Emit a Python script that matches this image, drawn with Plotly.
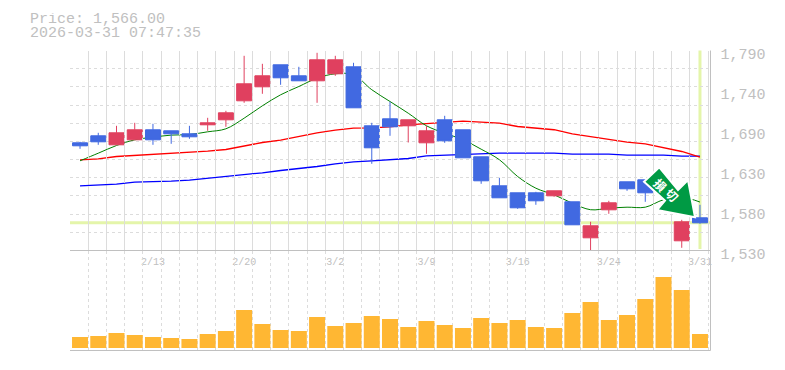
import plotly.graph_objects as go

opens = [1670.0,1679.1,1667.4,1673.9,1686.9,1685.6,1681.7,1693.4,1699.9,1724.6,1742.8,1771.4,1757.1,1750.6,1759.7,1768.8,1692.1,1701.2,1692.1,1670.0,1699.9,1686.9,1651.8,1614.1,1605.0,1605.0,1601.1,1593.3,1546.5,1582.9,1619.3,1621.9,1607.0,1542.6,1572.5]
closes = [1666.1,1671.3,1683.0,1686.9,1673.9,1681.7,1677.8,1696.0,1709.0,1746.7,1757.1,1754.5,1750.6,1777.9,1777.9,1715.5,1663.5,1690.8,1699.9,1685.6,1672.6,1650.5,1620.6,1598.5,1585.5,1594.6,1607.6,1563.4,1562.1,1592.0,1610.2,1605.0,1616.0,1567.3,1566.0]
highs = [1671.3,1683.0,1692.1,1696.0,1694.7,1685.6,1692.1,1702.5,1711.6,1783.1,1772.7,1771.4,1768.8,1787.0,1783.1,1774.0,1696.0,1723.3,1699.9,1692.1,1705.1,1686.9,1651.8,1624.5,1605.0,1606.3,1607.6,1593.3,1567.3,1594.6,1619.3,1621.9,1616.0,1569.9,1589.4]
lows = [1662.2,1667.4,1667.4,1673.9,1667.4,1668.7,1675.2,1685.6,1690.8,1722.0,1733.7,1745.4,1750.6,1722.0,1757.1,1715.5,1642.7,1679.1,1670.4,1655.7,1670.0,1650.5,1616.7,1598.5,1584.2,1589.4,1600.0,1563.4,1529.6,1577.7,1607.6,1593.3,1607.0,1533.5,1564.7]
ma_short = [1646.6,1656.5,1666.5,1673.9,1677.3,1680.0,1680.8,1684.3,1688.2,1702.0,1718.1,1732.4,1743.2,1754.0,1759.7,1758.4,1739.0,1723.7,1708.5,1692.1,1682.5,1674.0,1661.7,1648.0,1626.2,1611.0,1602.4,1591.5,1583.0,1585.0,1586.3,1586.3,1596.0,1599.3,1593.0]
ma_mid = [1647.9,1649.2,1652.2,1653.5,1654.8,1656.1,1657.0,1659.1,1661.3,1666.1,1670.4,1673.4,1678.6,1683.0,1686.4,1689.0,1689.5,1690.8,1693.4,1695.1,1697.3,1698.1,1696.8,1695.5,1691.2,1689.0,1687.0,1681.7,1677.8,1674.0,1670.8,1668.7,1664.0,1658.7,1651.3]
ma_long = [1614.1,1615.0,1616.2,1618.8,1619.3,1620.1,1621.4,1623.6,1625.8,1628.4,1631.0,1634.0,1636.2,1639.2,1642.7,1645.3,1646.6,1647.9,1649.6,1653.1,1653.9,1655.2,1655.2,1656.5,1656.5,1656.5,1656.5,1655.2,1655.2,1655.2,1653.9,1653.9,1653.9,1652.6,1652.6]
volumes = [11,12,15,13,11,10,9,14,17,38,24,18,17,31,22,25,32,29,21,27,23,20,30,25,28,21,20,35,46,28,33,49,71,58,14]
date_positions = [4,9,14,19,24,29,34]
date_labels = ["2/13","2/20","3/2","3/9","3/16","3/24","3/31"]
price_ticks = [1790,1738,1686,1634,1582,1530]
price_labels = ["1,790","1,740","1,690","1,630","1,580","1,530"]
last_price = 1566
title_lines = ["Price: 1,566.00","2026-03-31 07:47:35"]

W,H = 785,370
L,R,T,B = 70,710,50.5,350.5
XR = [-0.55,34.55]
YR = [1530,1790]
GREY="#c0c0c0"; GRID="#dcdcdc"; BLUE="#4169e1"; RED="#e0405f"
n=len(opens); xs=list(range(n))
def fy(p): return 1-p/H

fig=go.Figure()
fig.add_trace(go.Scatter(x=xs,y=ma_long,mode="lines",line=dict(color="#0000ff",width=1.3),hoverinfo="skip"))
fig.add_trace(go.Scatter(x=xs,y=ma_mid,mode="lines",line=dict(color="#ff0000",width=1.3),hoverinfo="skip"))
fig.add_trace(go.Scatter(x=xs,y=ma_short,mode="lines",line=dict(color="#008000",width=1,shape="spline"),hoverinfo="skip"))
fig.add_trace(go.Candlestick(x=xs,open=opens,high=highs,low=lows,close=closes,yaxis="y3",whiskerwidth=0,
    increasing=dict(line=dict(color=RED,width=1),fillcolor=RED),
    decreasing=dict(line=dict(color=BLUE,width=1),fillcolor=BLUE)))
fig.add_trace(go.Bar(x=xs,y=volumes,yaxis="y2",marker=dict(color="#ffb733",line_width=0),width=0.877))
fig.add_trace(go.Scatter(x=[0],y=[1530],yaxis="y4",mode="markers",marker=dict(opacity=0),hoverinfo="skip"))

minor_vals=[i-0.55 for i in range(n+1)]
fig.update_layout(
    width=W,height=H,autosize=False,margin=dict(l=0,r=0,t=0,b=0,autoexpand=False),paper_bgcolor="white",plot_bgcolor="rgba(0,0,0,0)",
    showlegend=False,boxgap=0.18,boxgroupgap=0,bargap=0.12,
    font=dict(family="Liberation Mono",color=GREY,size=15),
    xaxis=dict(domain=[L/W,R/W],range=XR,anchor="y",tickmode="array",tickvals=date_positions,ticktext=date_labels,
        tickfont=dict(size=10,color=GREY),ticks="outside",ticklen=1,tickcolor="rgba(0,0,0,0)",showgrid=False,zeroline=False,
        rangeslider=dict(visible=False),showline=False,
        minor=dict(tickmode="array",tickvals=minor_vals,showgrid=True,gridcolor=GRID,griddash="3px,3px",gridwidth=1,ticks="")),
    yaxis=dict(domain=[fy(250.5),fy(T)],range=YR,tickmode="linear",tick0=1530,dtick=260/11,showticklabels=False,ticks="",
        showgrid=True,gridcolor=GRID,griddash="3px,3px",zeroline=False),
    yaxis3=dict(overlaying="y",range=YR,visible=False),
    yaxis2=dict(domain=[fy(B),fy(250.5)],range=[-2.5,97.5],visible=False),
    yaxis4=dict(domain=[fy(253.5),fy(53.5)],range=YR,side="right",anchor="free",position=(R+0.5)/W,tickmode="array",
        tickvals=price_ticks,ticktext=price_labels,tickfont=dict(size=15,color=GREY),ticks="outside",ticklen=6,tickcolor="rgba(0,0,0,0)",
        showgrid=False,zeroline=False,showline=False),
)
def line(x0,y0,x1,y1,color=GREY,w=1,xref="paper",yref="paper",layer="above"):
    fig.add_shape(type="line",x0=x0,y0=y0,x1=x1,y1=y1,xref=xref,yref=yref,line=dict(color=color,width=w),layer=layer)
line(L/W,fy(250.5),(R+0.5)/W,fy(250.5))
line(L/W,fy(B),(R+0.5)/W,fy(B))
line((R+0.5)/W,fy(T),(R+0.5)/W,fy(B))
HL="#e4f5aa"
line(XR[0],last_price,XR[1],last_price,HL,3,xref="x",yref="y",layer="below")
line(34,fy(249),34,fy(T),HL,3,xref="x",yref="paper",layer="below")

pts=[(659.3,167.3),(678,190),(688,180),(695,217.3),(657,210),(665,200.7),(644,181.7)]
path="M "+" L ".join(f"{x/W:.5f},{1-y/H:.5f}" for x,y in pts)+" Z"
fig.add_shape(type="path",path=path,xref="paper",yref="paper",fillcolor="#009a44",line=dict(color="white",width=2))
for ch,(ax,ay) in zip("損切",[(660.7,184),(672,195)]):
    fig.add_annotation(text="<b>"+ch+"</b>",x=ax/W,y=1-ay/H,xref="paper",yref="paper",showarrow=False,textangle=45,
        xanchor="center",yanchor="middle",font=dict(family="Noto Sans CJK JP",size=12,color="white"))
for i,t in enumerate(title_lines):
    fig.add_annotation(text=t,x=28/W,y=1-(19+14.5*i)/H,xref="paper",yref="paper",xanchor="left",yanchor="middle",showarrow=False,
        height=13,font=dict(family="Liberation Mono",size=15,color=GREY))
fig.write_html("out.html",config={"displayModeBar":False},post_script="document.body.style.margin='0';")
